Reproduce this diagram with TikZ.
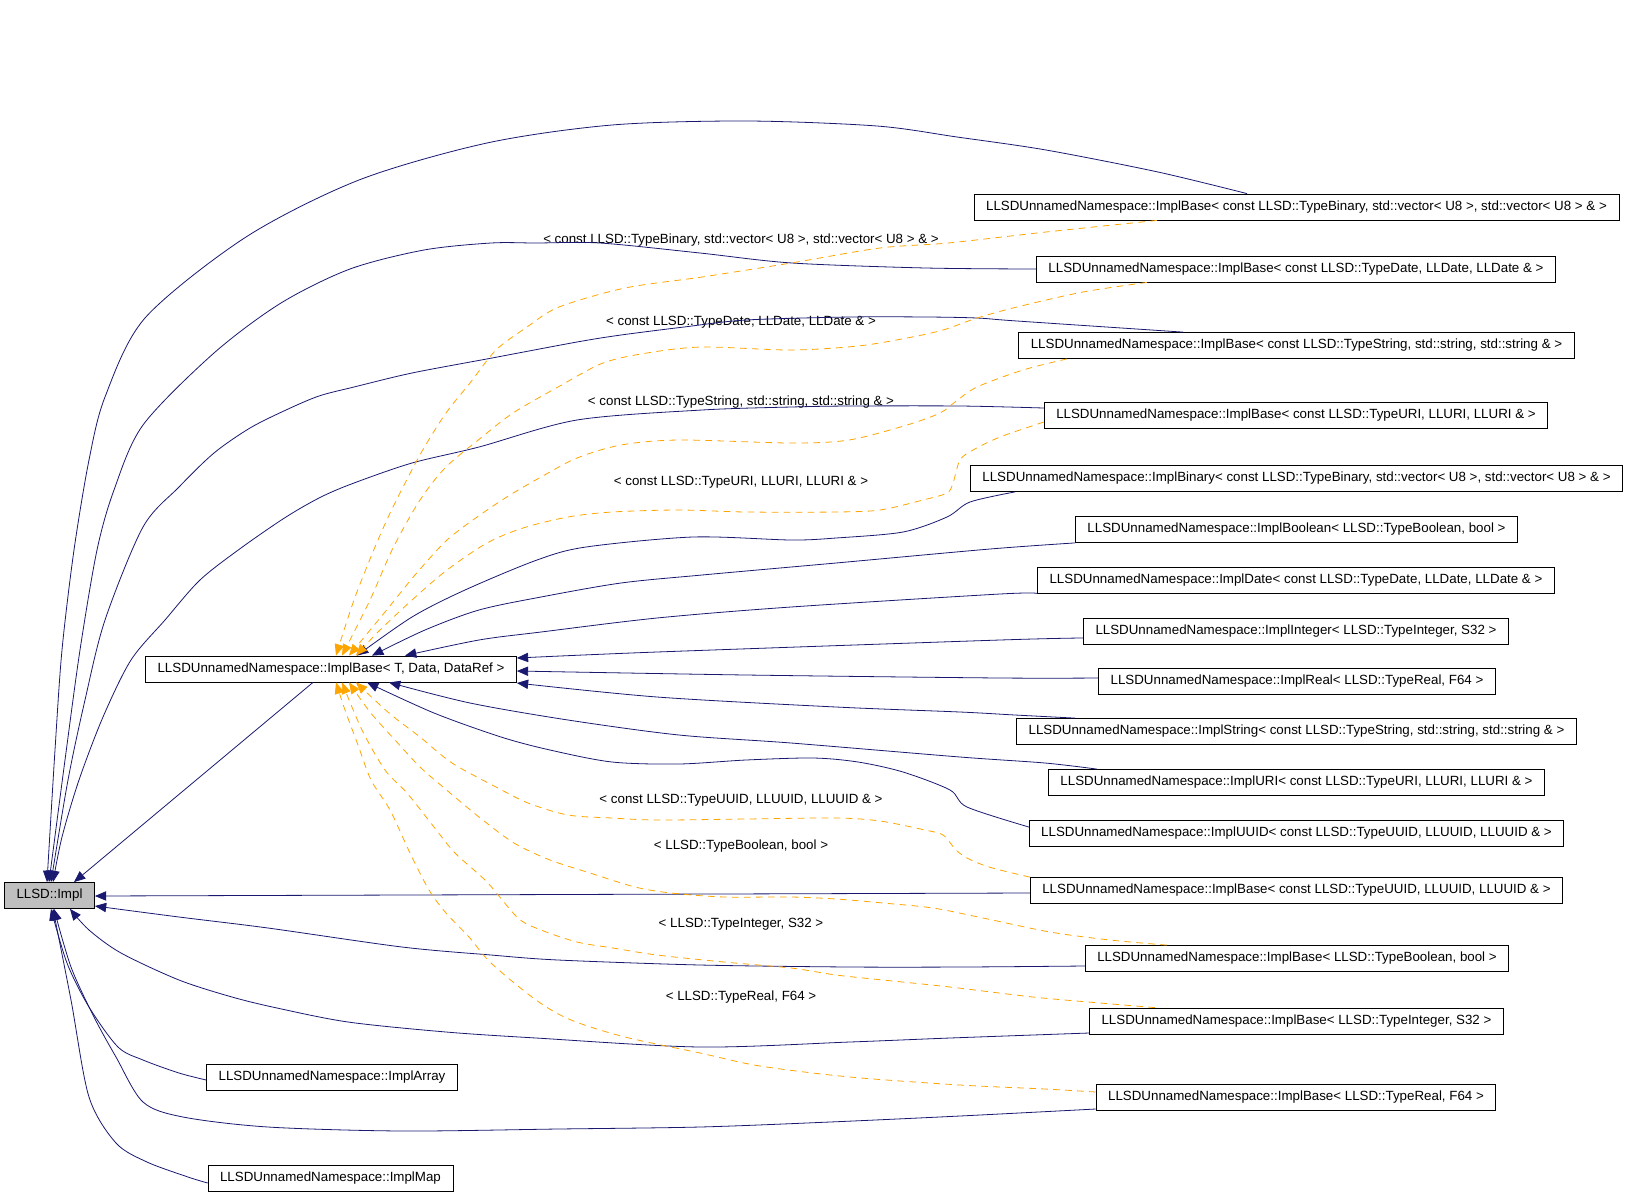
\documentclass[tikz,border=0pt]{standalone}
\usepackage{fontspec}
\setmainfont{Liberation Sans}
\usepackage{tikz}
\usetikzlibrary{arrows.meta}
\definecolor{edgeblue}{RGB}{25,25,112}
\definecolor{edgeorange}{RGB}{255,165,0}
\definecolor{boxgray}{RGB}{191,191,191}
\tikzstyle{classbox} = [rectangle,
minimum height=19.5pt,
inner xsep=9pt,
inner ysep=0pt,
text centered,
draw=black,
line width=0.6pt,
fill=white,
font=\fontsize{10}{12}\selectfont]
\tikzstyle{rootbox} = [classbox, fill=boxgray]
\tikzstyle{tmpllabel} = [inner sep=0pt, font=\fontsize{10}{12}\selectfont]
\tikzstyle{inherit} = [color=edgeblue, line width=0.6pt, ->, >={Triangle[length=8.5pt,width=7pt]}]
\tikzstyle{instance} = [color=edgeorange, line width=0.6pt, dash pattern=on 5pt off 4pt, ->, >={Triangle[length=8.5pt,width=7pt]}]

\begin{document}
\begin{tikzpicture}[x=0.75pt, y=-0.75pt]
    \useasboundingbox (0,0) rectangle (1629,1197);

    \node (impl) [rootbox] at (49.5,895.5) {LLSD::Impl};
    \node (base) [classbox] at (331,669) {LLSDUnnamedNamespace::ImplBase< T, Data, DataRef >};

    \node (bBinary) [classbox] at (1296.5,207) {LLSDUnnamedNamespace::ImplBase< const LLSD::TypeBinary, std::vector< U8 >, std::vector< U8 > \& >};
    \node (bDate) [classbox] at (1296,269) {LLSDUnnamedNamespace::ImplBase< const LLSD::TypeDate, LLDate, LLDate \& >};
    \node (bString) [classbox] at (1296.5,345.5) {LLSDUnnamedNamespace::ImplBase< const LLSD::TypeString, std::string, std::string \& >};
    \node (bURI) [classbox] at (1296,415.5) {LLSDUnnamedNamespace::ImplBase< const LLSD::TypeURI, LLURI, LLURI \& >};
    \node (iBinary) [classbox] at (1296.5,478.5) {LLSDUnnamedNamespace::ImplBinary< const LLSD::TypeBinary, std::vector< U8 >, std::vector< U8 > \& >};
    \node (iBoolean) [classbox] at (1296.5,529.5) {LLSDUnnamedNamespace::ImplBoolean< LLSD::TypeBoolean, bool >};
    \node (iDate) [classbox] at (1296,580) {LLSDUnnamedNamespace::ImplDate< const LLSD::TypeDate, LLDate, LLDate \& >};
    \node (iInteger) [classbox] at (1296,631) {LLSDUnnamedNamespace::ImplInteger< LLSD::TypeInteger, S32 >};
    \node (iReal) [classbox] at (1297,681.5) {LLSDUnnamedNamespace::ImplReal< LLSD::TypeReal, F64 >};
    \node (iString) [classbox] at (1296.5,731.5) {LLSDUnnamedNamespace::ImplString< const LLSD::TypeString, std::string, std::string \& >};
    \node (iURI) [classbox] at (1296.5,782.5) {LLSDUnnamedNamespace::ImplURI< const LLSD::TypeURI, LLURI, LLURI \& >};
    \node (iUUID) [classbox] at (1296.5,833.5) {LLSDUnnamedNamespace::ImplUUID< const LLSD::TypeUUID, LLUUID, LLUUID \& >};
    \node (bUUID) [classbox] at (1296.5,890.5) {LLSDUnnamedNamespace::ImplBase< const LLSD::TypeUUID, LLUUID, LLUUID \& >};
    \node (bBoolean) [classbox] at (1297,958.5) {LLSDUnnamedNamespace::ImplBase< LLSD::TypeBoolean, bool >};
    \node (bInteger) [classbox] at (1296.5,1021) {LLSDUnnamedNamespace::ImplBase< LLSD::TypeInteger, S32 >};
    \node (bReal) [classbox] at (1296,1097) {LLSDUnnamedNamespace::ImplBase< LLSD::TypeReal, F64 >};
    \node (iArray) [classbox] at (332,1077) {LLSDUnnamedNamespace::ImplArray};
    \node (iMap) [classbox] at (330.5,1178.5) {LLSDUnnamedNamespace::ImplMap};

    \node (labBinary) [tmpllabel] at (741,240) {< const LLSD::TypeBinary, std::vector< U8 >, std::vector< U8 > \& >};
    \node (labDate) [tmpllabel] at (741,322) {< const LLSD::TypeDate, LLDate, LLDate \& >};
    \node (labString) [tmpllabel] at (741,402) {< const LLSD::TypeString, std::string, std::string \& >};
    \node (labURI) [tmpllabel] at (741,482) {< const LLSD::TypeURI, LLURI, LLURI \& >};
    \node (labUUID) [tmpllabel] at (741,800) {< const LLSD::TypeUUID, LLUUID, LLUUID \& >};
    \node (labBoolean) [tmpllabel] at (741,846) {< LLSD::TypeBoolean, bool >};
    \node (labInteger) [tmpllabel] at (741,924) {< LLSD::TypeInteger, S32 >};
    \node (labReal) [tmpllabel] at (741,997) {< LLSD::TypeReal, F64 >};

    \draw [inherit] plot [smooth, tension=0.5] coordinates {(bBinary.north -| 1247,0) (1158,172) (1046,150) (957,137) (877,126) (747,121) (612,125) (487,143) (359,180) (246,237) (145,318) (105,397) (89,460) (74,550) (62,650) (55,750) (impl.north -| 47,0)};
    \draw [inherit] plot [smooth, tension=0.5] coordinates {(bDate.west) (926,268) (792,263) (700,253) (600,243) (536,243) (491,243) (424,250) (350,269) (281,303) (214,353) (143,425) (114,490) (97,550) (80,650) (65,760) (impl.north -| 49,0)};
    \draw [inherit] plot [smooth, tension=0.5] coordinates {(bString.north -| 1183,0) (1017,321) (977,318) (927,317) (850,317) (746,320) (684,327) (621,335) (577,342) (492,358) (412,373) (354,387) (319,396) (286,410) (250,428) (214,453) (179,487) (143,527) (105,620) (85,700) (68,780) (impl.north -| 51,0)};
    \draw [inherit] plot [smooth, tension=0.5] coordinates {(bURI.west |- 0,408) (960,406) (850,406) (791,407) (702,410) (577,420) (479,447) (412,463) (354,483) (321,497) (286,517) (241,548) (200,580) (165,620) (131,660) (103,717) (79,780) (62,837) (impl.north -| 53,0)};
    \draw [inherit] (base.south -| 313,0) -- (impl.north -| 74,0);

    \draw [inherit] (bUUID.west |- 0,893) -- (impl.east |- 0,896);
    \draw [inherit] plot [smooth, tension=0.5] coordinates {(bBoolean.west |- 0,966) (963,967) (850,967) (700,965) (558,960) (491,955) (402,947) (268,928) (179,917) (impl.east |- 0,906)};
    \draw [inherit] plot [smooth, tension=0.5] coordinates {(bInteger.west |- 0,1033) (950,1038) (850,1042) (700,1047) (536,1038) (446,1032) (348,1022) (277,1008) (232,997) (179,980) (121,953) (89,930) (impl.south -| 70,0)};
    \draw [inherit] plot [smooth, tension=0.5] coordinates {(bReal.west |- 0,1109) (960,1116) (830,1122) (700,1127) (558,1129) (402,1131) (268,1127) (183,1117) (143,1102) (116,1057) (94,1017) (71,967) (impl.south -| 54,0)};
    \draw [inherit] plot [smooth, tension=0.5] coordinates {(iArray.west |- 0,1080) (179,1073) (143,1060) (118,1047) (89,1007) (67,963) (impl.south -| 51,0)};
    \draw [inherit] plot [smooth, tension=0.5] coordinates {(iMap.west |- 0,1183) (188,1177) (147,1162) (116,1143) (89,1097) (71,1000) (impl.south -| 53,0)};

    \draw [inherit] plot [smooth, tension=0.5] coordinates {(iBinary.south -| 1015,0) (970,502) (947,517) (903,532) (836,538) (791,540) (693,537) (586,547) (537,560) (465,590) (412,617) (base.north -| 357,0)};
    \draw [inherit] plot [smooth, tension=0.5] coordinates {(iBoolean.south west) (990,549) (836,563) (702,575) (621,583) (541,597) (479,610) (425,630) (base.north -| 372,0)};
    \draw [inherit] plot [smooth, tension=0.5] coordinates {(iDate.south west) (1000,594) (791,607) (657,618) (541,632) (479,640) (base.north -| 405,0)};
    \draw [inherit] plot [smooth, tension=0.5] coordinates {(iInteger.west |- 0,638) (1000,640) (657,652) (base.east |- 0,658)};
    \draw [inherit] plot [smooth, tension=0.5] coordinates {(iReal.west |- 0,678) (1000,678) (746,675) (base.east |- 0,671)};
    \draw [inherit] plot [smooth, tension=0.5] coordinates {(iString.north -| 1075,0) (1015,715) (960,712) (836,707) (657,697) (base.east |- 0,683)};
    \draw [inherit] plot [smooth, tension=0.5] coordinates {(iURI.north -| 1097,0) (1045,763) (960,757) (791,743) (679,735) (568,720) (470,703) (base.south -| 389,0)};
    \draw [inherit] plot [smooth, tension=0.5] coordinates {(iUUID.west |- 0,827) (967,807) (950,790) (903,772) (858,762) (813,758) (746,760) (679,764) (612,762) (550,750) (501,737) (434,713) (base.south -| 367,0)};

    \draw [instance] plot [smooth, tension=0.5] coordinates {(bBinary.south -| 1157,0) (1046,232) (948,243) (880,248) (791,263) (702,277) (625,288) (559,307) (527,327) (496,350) (470,383) (446,413) (421,453) (393,507) (375,547) (354,600) (base.north -| 336,0)};
    \draw [instance] plot [smooth, tension=0.5] coordinates {(bDate.south -| 1147,0) (1083,292) (1017,307) (977,318) (943,330) (907,338) (858,346) (791,350) (702,347) (647,353) (603,363) (558,387) (513,413) (482,437) (446,467) (420,500) (393,548) (370,600) (base.north -| 342,0)};
    \draw [instance] plot [smooth, tension=0.5] coordinates {(bString.south -| 1067,0) (1023,370) (977,387) (955,402) (940,413) (907,425) (849,440) (791,443) (679,440) (621,445) (577,458) (541,477) (510,495) (480,515) (447,540) (415,575) (385,612) (base.north -| 349,0)};
    \draw [instance] plot [smooth, tension=0.5] coordinates {(bURI.west |- 0,422) (1000,437) (973,450) (960,460) (953,483) (947,493) (923,500) (880,510) (836,512) (746,512) (679,510) (612,512) (568,517) (523,528) (487,543) (447,570) (412,600) (378,632) (base.north -| 356,0)};

    \draw [instance] plot [smooth, tension=0.5] coordinates {(bUUID.north west) (1000,870) (983,865) (967,858) (956,850) (943,835) (925,830) (880,821) (836,818) (746,819) (657,820) (612,818) (568,815) (528,803) (496,787) (452,763) (420,737) (389,713) (base.south -| 356,0)};
    \draw [instance] plot [smooth, tension=0.5] coordinates {(bBoolean.north -| 1167,0) (1110,940) (1050,932) (983,918) (933,908) (883,903) (836,899) (791,897) (724,897) (671,893) (635,887) (590,873) (550,860) (514,843) (479,817) (443,787) (420,767) (395,740) (370,712) (base.south -| 349,0)};
    \draw [instance] plot [smooth, tension=0.5] coordinates {(bInteger.north -| 1155,0) (1100,1003) (1033,997) (950,987) (883,980) (836,975) (791,968) (724,962) (657,955) (613,948) (577,942) (541,930) (518,918) (487,882) (455,853) (434,827) (407,793) (385,770) (362,730) (base.south -| 342,0)};
    \draw [instance] plot [smooth, tension=0.5] coordinates {(bReal.west |- 0,1092) (1045,1089) (960,1085) (850,1077) (760,1066) (700,1053) (625,1037) (571,1020) (536,1000) (491,963) (469,937) (446,913) (429,890) (410,853) (390,810) (371,780) (358,745) (345,710) (base.south -| 336,0)};
\end{tikzpicture}
\end{document}
